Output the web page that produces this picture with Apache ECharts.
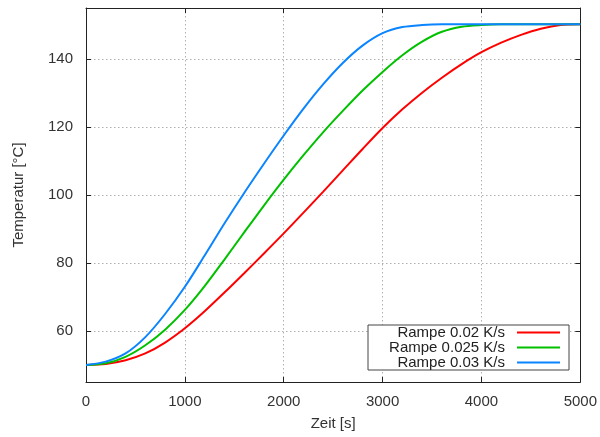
<!DOCTYPE html>
<html>
<head>
<meta charset="utf-8">
<script src="https://cdn.jsdelivr.net/npm/echarts@6/dist/echarts.min.js"></script>
<style>html,body{margin:0;padding:0;background:#fff;}#c{width:600px;height:437px;}</style>
</head>
<body>
<div id="c"></div>
<script>
const times = [0,200,400,600,800,1000,1200,1400,1600,1800,2000,2200,2400,2600,2800,3000,3200,3400,3600,3800,4000,4200,4400,4600,4800,5000];
const rampe002 = [50,50.3,51.4,53.4,56.6,60.8,65.8,71.3,77.0,82.8,88.7,94.8,101.0,107.3,113.6,119.7,125.2,130.1,134.5,138.5,142.0,144.8,147.1,148.9,150.0,150.2];
const rampe0025 = [50,50.5,52.4,55.8,60.4,66.2,73.2,81.0,89.0,96.9,104.5,111.7,118.5,124.8,130.8,136.2,141.1,145.1,148.0,149.5,150.0,150.2,150.2,150.2,150.2,150.2];
const rampe003 = [50,51.0,53.4,58.2,65.0,73.0,82.2,91.6,100.6,109.2,117.5,125.4,132.6,138.9,144.0,147.6,149.4,150.0,150.2,150.2,150.2,150.2,150.2,150.2,150.2,150.2];
const seriesNames = ['Rampe 0.02 K/s','Rampe 0.025 K/s','Rampe 0.03 K/s'];
const seriesColors = ['#ff0000','#00c000','#0a84ff'];
const yTicks = [60,80,100,120,140];

const font = "'Liberation Sans', Arial, sans-serif";
const chart = echarts.init(document.getElementById('c'));
const allData = [rampe002, rampe0025, rampe003];
const gridLine = {show:true, lineStyle:{color:'#b0b0b0', width:1, type:[1.5,2.5]}};
const axisLine = {show:true, onZero:false, lineStyle:{color:'#222', width:1}};
const tick = {show:true, inside:true, length:5, lineStyle:{color:'#222'}};
chart.setOption({
  animation:false,
  grid:{left:86, right:19, top:8, bottom:55},
  xAxis:[{
    type:'value', min:0, max:5000, interval:1000, position:'bottom',
    name:'Zeit [s]', nameLocation:'middle', nameGap:34,
    nameTextStyle:{fontFamily:font, fontSize:15, color:'#333'},
    axisLine:axisLine, axisTick:tick, splitLine:gridLine,
    axisLabel:{fontFamily:font, fontSize:15, color:'#333', margin:12, formatter:v=>String(v)}
  },{
    type:'value', min:0, max:5000, interval:1000, position:'top',
    axisLine:axisLine, axisTick:tick, splitLine:{show:false}, axisLabel:{show:false}
  }],
  yAxis:[{
    type:'value', min:45, max:155, position:'left',
    name:'Temperatur [°C]', nameLocation:'middle', nameGap:60, nameRotate:90,
    nameTextStyle:{fontFamily:font, fontSize:15, color:'#333'},
    axisLine:axisLine, axisTick:Object.assign({customValues:yTicks}, tick), splitLine:gridLine,
    axisLabel:{customValues:yTicks, fontFamily:font, fontSize:15, color:'#333', margin:13, formatter:v=>String(v)}
  },{
    type:'value', min:45, max:155, position:'right',
    axisLine:axisLine, axisTick:Object.assign({customValues:yTicks}, tick), splitLine:{show:false},
    axisLabel:{show:false, customValues:yTicks}
  }],
  legend:{
    orient:'vertical', left:368, top:325, align:'right',
    icon:'rect', itemWidth:43, itemHeight:2, itemGap:0,
    padding:[0,9,0,12],
    borderColor:'#444', borderWidth:1, backgroundColor:'#fff',
    formatter: n => '{a|' + n + '}',
    textStyle:{fontFamily:font, fontSize:15, color:'#222',
      rich:{a:{width:125, align:'right', padding:[0,7,0,0], fontFamily:font, fontSize:15, lineHeight:18, color:'#222'}}},
    data:seriesNames
  },
  series: allData.map((arr,i)=>({
    name:seriesNames[i], type:'line', xAxisIndex:0, yAxisIndex:0,
    showSymbol:false, smooth:0.3,
    lineStyle:{color:seriesColors[i], width:2},
    itemStyle:{color:seriesColors[i]},
    data: times.map((t,j)=>[t, arr[j]])
  }))
});
</script>
</body>
</html>
